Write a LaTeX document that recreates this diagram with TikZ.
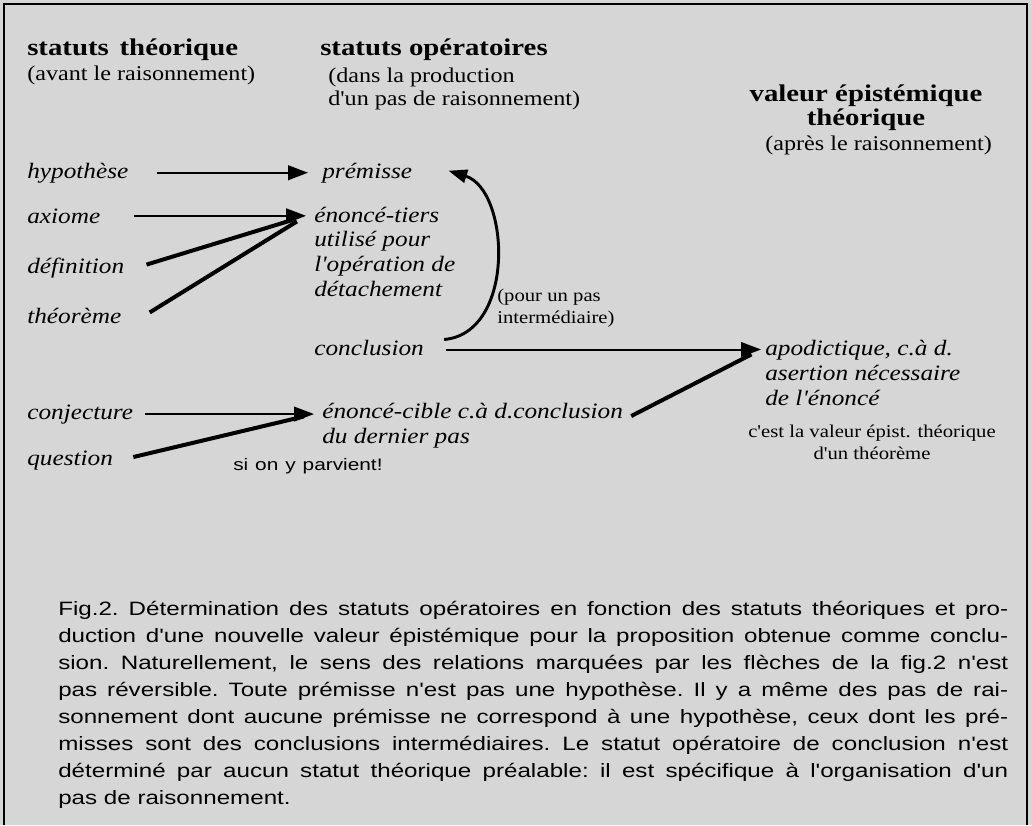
\documentclass[tikz,border=0pt]{standalone}
\usepackage{fontspec}
\setmainfont{Liberation Serif}
\newfontfamily\serifwide[FakeStretch=1.15]{Liberation Serif}
\newfontfamily\serifhead[FakeStretch=1.2]{Liberation Serif}
\newfontfamily\capsans[FakeStretch=1.25]{Liberation Sans}
\usetikzlibrary{arrows.meta,calc}
\tikzset{
  lbl/.style={inner sep=0pt, anchor=base west, align=left},
  headtxt/.style={lbl, font=\serifhead\bfseries\fontsize{18}{15.5}\selectfont},
  subtxt/.style={lbl, font=\serifwide\fontsize{15.75}{17.25}\selectfont},
  ittxt/.style={lbl, font=\serifwide\itshape\fontsize{16.5}{18.4}\selectfont},
  smalltxt/.style={lbl, font=\serifwide\fontsize{13.5}{16.5}\selectfont},
  captxt/.style={inner sep=0pt, anchor=base west, font=\capsans\frenchspacing\fontsize{14.5}{20.4}\selectfont},
  thinarrow/.style={line width=1.5pt, -{Triangle[length=15pt,width=11pt]}},
  thickline/.style={line width=3pt, shorten >=8pt},
  curvearrow/.style={line width=2.2pt, -{Triangle[length=14pt,width=10pt]}},
}
\newcommand{\capline}[1]{\makebox[712.5pt][s]{#1}}
\begin{document}
\begin{tikzpicture}[x=0.75pt,y=-0.75pt]
\useasboundingbox (0,0) rectangle (1032,825);
\fill[black!16] (0,0) rectangle (1032,825);
\draw[line width=2pt] (4,825) -- (4,4) -- (1027,4) -- (1027,825);

% headings (multi-line nodes: base = last line)
\node[headtxt] (h1) at (27,55) {statuts\hskip0.45em théorique};
\node[subtxt] (h1s) at (27,80) {(avant le raisonnement)};
\node[headtxt] (h2) at (320,55) {statuts opératoires};
\node[subtxt] (h2s) at (328,105) {(dans la production\\d'un pas de raisonnement)};
\node[headtxt, anchor=base, align=center] (h3) at (866,125) {valeur épistémique\\théorique};
\node[subtxt] (h3s) at (765,150) {(après le raisonnement)};

% left column
\node[ittxt] (hyp) at (27,178) {hypothèse};
\node[ittxt] (axi) at (27,223) {axiome};
\node[ittxt] (def) at (27,273) {définition};
\node[ittxt] (theo) at (27,323) {théorème};
\node[ittxt] (conj) at (27,419) {conjecture};
\node[ittxt] (quest) at (27,465) {question};

% middle column
\node[ittxt] (prem) at (322,178) {prémisse};
\node[ittxt] (tiers) at (314,296) {énoncé-tiers\\utilisé pour\\l'opération de\\détachement};
\node[ittxt] (concl) at (314,355) {conclusion};
\node[ittxt] (cible) at (322,443) {énoncé-cible c.à d.conclusion\\du dernier pas};
\node[smalltxt] (pour) at (497,323) {(pour un pas\\intermédiaire)};
\node[captxt, font=\capsans\fontsize{12.5}{14}\selectfont] (parv) at (233,470) {\makebox[112pt][s]{si on y parvient!}};

% right column
\node[ittxt] (apod) at (765,405) {apodictique, c.à d.\\asertion nécessaire\\de l'énoncé};
\node[smalltxt, anchor=base, align=center] (cest) at (872,459) {c'est la valeur épist. théorique\\d'un théorème};

% arrow tips
\coordinate (tipT) at ($(tiers.west |- axi.east)+(-8,0)$);
\coordinate (tipC) at ($(cible.west |- conj.east)+(-8,0)$);
\coordinate (tipB) at ($(apod.west |- concl.east)+(-4,2)$);

% connectors
\draw[thinarrow] ($(hyp.east)+(28,0)$) -- ($(prem.west |- hyp.east)+(-14,0)$);
\draw[thinarrow] ($(axi.east)+(33,0)$) -- (tipT);
\draw[thickline] ($(def.east)+(22,-3)$) -- (tipT);
\draw[thickline] ($(theo.east)+(28,-3)$) -- (tipT);
\draw[thinarrow] ($(conj.east)+(12,0)$) -- (tipC);
\draw[thickline] ($(quest.east)+(20,-3)$) -- (tipC);
\draw[thinarrow] ($(concl.east |- tipB)+(22,0)$) -- (tipB);
\draw[thickline] ($(cible.east |- conj.east)+(8,2)$) -- (tipB);
\draw[curvearrow] ($(concl.east)+(20,-8)$) .. controls (516,333) and (510,190) .. ($(prem.east)+(36,-2)$);

% caption
\node[captxt] (c1) at (58,615) {\capline{Fig.2. Détermination des statuts opératoires en fonction des statuts théoriques et pro-}};
\node[captxt] (c2) at (58,642) {\capline{duction d'une nouvelle valeur épistémique pour la proposition obtenue comme conclu-}};
\node[captxt] (c3) at (58,669) {\capline{sion. Naturellement, le sens des relations marquées par les flèches de la fig.2 n'est}};
\node[captxt] (c4) at (58,696) {\capline{pas réversible. Toute prémisse n'est pas une hypothèse. Il y a même des pas de rai-}};
\node[captxt] (c5) at (58,723) {\capline{sonnement dont aucune prémisse ne correspond à une hypothèse, ceux dont les pré-}};
\node[captxt] (c6) at (58,750) {\capline{misses sont des conclusions intermédiaires. Le statut opératoire de conclusion n'est}};
\node[captxt] (c7) at (58,777) {\capline{déterminé par aucun statut théorique préalable: il est spécifique à l'organisation d'un}};
\node[captxt] (c8) at (58,804) {pas de raisonnement.};
\end{tikzpicture}
\end{document}
